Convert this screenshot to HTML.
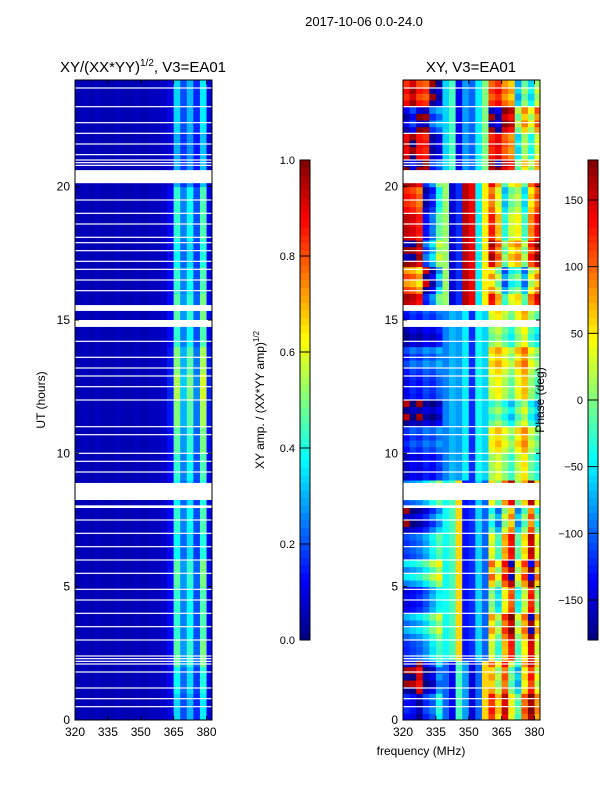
<!DOCTYPE html>
<html><head><meta charset="utf-8">
<style>
body{margin:0;background:#fff;}
svg text{font-family:"Liberation Sans","DejaVu Sans",sans-serif;fill:#000;}
</style></head>
<body>
<svg id="fig" width="600" height="800" viewBox="0 0 600 800" xmlns="http://www.w3.org/2000/svg">
<rect width="600" height="800" fill="#fff"/>
<text x="364" y="26" font-size="13" text-anchor="middle">2017-10-06 0.0-24.0</text>
<text x="143" y="72" font-size="15" text-anchor="middle">XY/(XX*YY)<tspan font-size="10" dy="-6">1/2</tspan><tspan dy="6">, V3=EA01</tspan></text>
<text x="471" y="72" font-size="15" text-anchor="middle">XY, V3=EA01</text>
<text x="421" y="755" font-size="12" text-anchor="middle">frequency (MHz)</text>
<text x="45" y="400" font-size="12" text-anchor="middle" transform="rotate(-90 45 400)">UT (hours)</text>
<text x="264" y="400" font-size="12" text-anchor="middle" transform="rotate(-90 264 400)">XY amp. / (XX*YY amp)<tspan font-size="8" dy="-5">1/2</tspan></text>
<g id="left"></g>
<g id="right"></g>
<g id="axes"></g>
<text x="544" y="400" font-size="12" text-anchor="middle" transform="rotate(-90 544 400)">Phase (deg)</text>
</svg>
<script>
// ---- data ----
const channels = [320,323,326,329,332,335,338,341,344,347,350,353,356,359,362,365,368,371,374,377,380];
const ampProfile = [0.05,0.06,0.05,0.06,0.05,0.05,0.06,0.05,0.05,0.06,0.05,0.06,0.06,0.07,0.12,0.42,0.25,0.38,0.2,0.45,0.12];
const ampHourScale = [0.8,0.9,1.1,1.0,1.0,1.1,0.9,1.0,0.9,1.0,1.1,1.2,1.3,1.2,1.0,1.1,1.0,0.9,1.0,1.0,0.7,0.7,0.8,0.8];
const periodStarts = [0,2.2,8.9,15.6,20.6];
const phaseA = [-150,-160,170,-140,-120,-60,-100,-140,-20,-80,-150,-100,60,100,40,130,20,-40,80,150,60];
const phaseB = [-130,-120,-110,-90,-60,-30,-40,-20,60,-130,-120,-60,-100,20,-40,60,120,-30,40,140,20];
const phaseC = [-150,-130,-140,-120,-130,-110,-90,-70,-80,-50,-120,-40,-60,20,40,10,-20,30,60,0,-30];
const phaseD = [150,140,120,-140,-100,-20,10,-150,-120,160,140,-50,50,120,60,-40,20,40,-30,80,130];
const phaseE = [160,-170,150,140,-150,-130,-60,-20,-140,-80,-100,-50,0,140,160,120,100,-40,30,-20,50];
const phaseHourShift = [30,-40,10,60,-20,80,20,-60,40,-10,30,-50,10,40,-30,20,-70,50,10,-30,40,-20,60,-40];
const flaggedRanges = [[20.13,20.62],[15.34,15.56],[14.74,15.0],[8.25,8.89],[7.95,8.05]];
const flaggedLines = [23.7,23.0,22.4,22.0,21.6,21.2,21.0,20.9,20.8,19.5,19.0,18.6,18.1,17.9,17.6,17.2,16.9,16.5,16.1,14.2,13.6,13.2,12.9,12.5,12.0,11.0,10.7,10.0,9.7,9.3,7.5,7.0,6.5,6.0,5.5,4.9,4.5,4.0,3.5,3.0,2.4,2.3,2.2,2.1,1.8,1.2,0.8,0.5];
const xTicks = [320,335,350,365,380];
const yTicks = [0,5,10,15,20];
const ampTicks = [0.0,0.2,0.4,0.6,0.8,1.0];
const phaseTicks = [-150,-100,-50,0,50,100,150];

// ---- scales ----
const NS="http://www.w3.org/2000/svg";
const PT=80, PB=720;
const yS = h => PB - (h/24)*(PB-PT);
function xS(f, x0){ return x0 + (f-320)/(382.5-320)*137; }
function jet(v){
  v=Math.max(0,Math.min(1,v));
  const r=Math.max(0,Math.min(1,1.5-Math.abs(4*v-3)));
  const g=Math.max(0,Math.min(1,1.5-Math.abs(4*v-2)));
  const b=Math.max(0,Math.min(1,1.5-Math.abs(4*v-1)));
  return `rgb(${Math.round(r*255)},${Math.round(g*255)},${Math.round(b*255)})`;
}
function mk(tag, attrs, parent){
  const e=document.createElementNS(NS,tag);
  for(const k in attrs) e.setAttribute(k,attrs[k]);
  parent.appendChild(e); return e;
}
function phaseFor(h){
  const p=[phaseA,phaseB,phaseC,phaseD,phaseE];
  let i=0; for(let k=0;k<periodStarts.length;k++) if(h>=periodStarts[k]) i=k;
  return p[i];
}
const left=document.getElementById('left'), right=document.getElementById('right'), axes=document.getElementById('axes');
const rowH=0.25;
for(let r=0;r<96;r++){
  const h0=r*rowH, h1=h0+rowH, hc=h0+rowH/2;
  const hr=Math.floor(hc);
  const ph=phaseFor(hc);
  for(let c=0;c<channels.length;c++){
    const f0=channels[c], f1=f0+3;
    const xl=xS(f0,75), w=Math.min(xS(f1,75),212)-xl;
    const a=ampProfile[c]*(c>=14?ampHourScale[hr]:1);
    const cell=mk('rect',{x:xl,y:yS(h1),width:w+0.5,height:yS(h0)-yS(h1)+0.5,fill:jet(a)},left);
    
    
    let p=ph[c]+(c>=13||c<6?phaseHourShift[hr]*(r%2?1:0.5):0);
    while(p>180)p-=360; while(p<-180)p+=360;
    const xr=xS(f0,403), wr=Math.min(xS(f1,403),540)-xr;
    const cell2=mk('rect',{x:xr,y:yS(h1),width:wr+0.5,height:yS(h0)-yS(h1)+0.5,fill:jet((p+180)/360)},right);
    
    
  }
}
// flags
[[75,left],[403,right]].forEach(([x0,g])=>{
  flaggedRanges.forEach(([a,b])=>{
    const e=mk('rect',{x:x0,y:yS(b),width:137,height:yS(a)-yS(b),fill:'#fff'},g);
    
    
  });
  flaggedLines.forEach(h=>{
    const e=mk('rect',{x:x0,y:yS(h)-0.6,width:137,height:1.2,fill:'#fff'},g);
    
    
  });
});
// axes frames and ticks
[75,403].forEach(x0=>{
  const fr=mk('rect',{x:x0,y:PT,width:137,height:PB-PT,fill:'none',stroke:'#000','stroke-width':1},axes);
  
  
  xTicks.forEach(t=>{
    const x=xS(t,x0);
    mk('line',{x1:x,x2:x,y1:PB,y2:PB-4,stroke:'#000'},axes);
    mk('line',{x1:x,x2:x,y1:PT,y2:PT+4,stroke:'#000'},axes);
    const tx=mk('text',{x:x,y:PB+16,'font-size':12,'text-anchor':'middle'},axes);
    tx.textContent=t;
    
    
  });
  yTicks.forEach(t=>{
    const y=yS(t);
    mk('line',{x1:x0,x2:x0+4,y1:y,y2:y,stroke:'#000'},axes);
    mk('line',{x1:x0+137,x2:x0+133,y1:y,y2:y,stroke:'#000'},axes);
    const tx=mk('text',{x:x0-5,y:y+4,'font-size':12,'text-anchor':'end'},axes);
    tx.textContent=t;
    
    
  });
});
// colorbars
function colorbar(x0, ticks, lo, hi, name, fmt){
  const g=mk('g',{},axes);
  
  
  const n=64;
  for(let i=0;i<n;i++){
    mk('rect',{x:x0,y:640-(i+1)*480/n,width:10,height:480/n+0.5,fill:jet((i+0.5)/n)},g);
  }
  mk('rect',{x:x0,y:160,width:10,height:480,fill:'none',stroke:'#000'},g);
  ticks.forEach(t=>{
    const y=640-(t-lo)/(hi-lo)*480;
    mk('line',{x1:x0,x2:x0+10,y1:y,y2:y,stroke:'#000'},g);
    const tx=mk('text',{x:x0-5,y:y+4,'font-size':11,'text-anchor':'end'},g);
    tx.textContent=fmt(t);
    
    
  });
}
colorbar(300, ampTicks, 0, 1, 'amp-colorbar', t=>t.toFixed(1));
colorbar(588, phaseTicks, -180, 180, 'phase-colorbar', t=>t<0?'\u2212'+(-t):String(t));
</script>
</body></html>
